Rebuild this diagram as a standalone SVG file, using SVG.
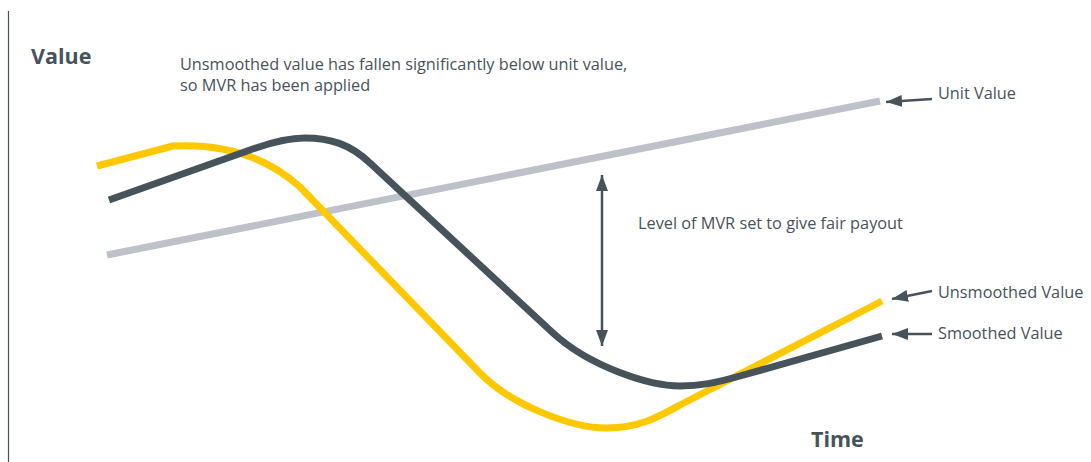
<svg xmlns="http://www.w3.org/2000/svg" width="1091" height="462" viewBox="0 0 1091 462">
<style>
.t{font-family:"Open Sans","Noto Sans",sans-serif;font-size:16.3px;fill:#47535B}
.b{font-family:"Open Sans","Noto Sans",sans-serif;font-size:21.5px;font-weight:bold;fill:#47535B}
.curve{fill:none;stroke-width:7;stroke-linejoin:round}
.ptr{stroke:#47535B;stroke-width:2.5;fill:none}
</style>
<defs>
<marker id="ah" viewBox="0 0 16 12" refX="16" refY="6" markerWidth="16" markerHeight="12" markerUnits="userSpaceOnUse" orient="auto-start-reverse">
<path d="M0,0 L16,6 L0,12 Z" fill="#47535B"/>
</marker>
</defs>
<g id="axis">
<line x1="8.5" y1="11" x2="8.5" y2="462" stroke="#47535B" stroke-width="1.2"/>
<text class="b" x="31" y="64">Value</text>
<text class="b" x="811" y="447">Time</text>
</g>
<g id="unit-value">
<line class="curve" x1="107" y1="255" x2="880" y2="101" stroke="#BDC1C9"/>
</g>
<g id="unsmoothed-value">
<path class="curve" stroke="#FFC800" d="M97,166 L173,146 C230,143 270,160 300,187 L480,373 C510,404 570,428 607,428 C640,428 660,416 680,405 L882,301"/>
</g>
<g id="smoothed-value">
<path class="curve" stroke="#47535B" d="M109,200 L250,150 C275,141 290,138 305,138 C330,138 350,144 370,163 L553,333 C590,367 650,386 680,386 C700,386 715,383 740,376 L882,336"/>
</g>
<g id="connectors">
<line class="ptr" x1="602" y1="175" x2="602" y2="346" marker-start="url(#ah)" marker-end="url(#ah)"/>
<line class="ptr" x1="932" y1="99" x2="886" y2="102" marker-end="url(#ah)"/>
<line class="ptr" x1="932" y1="291" x2="892" y2="299" marker-end="url(#ah)"/>
<line class="ptr" x1="932" y1="334" x2="892" y2="334" marker-end="url(#ah)"/>
</g>
<g id="labels">
<text class="t" x="180" y="70">Unsmoothed value has fallen significantly below unit value,</text>
<text class="t" x="180" y="91">so MVR has been applied</text>
<text class="t" x="938" y="99">Unit Value</text>
<text class="t" x="638" y="229">Level of MVR set to give fair payout</text>
<text class="t" x="938" y="298">Unsmoothed Value</text>
<text class="t" x="938" y="339">Smoothed Value</text>
</g>
</svg>
